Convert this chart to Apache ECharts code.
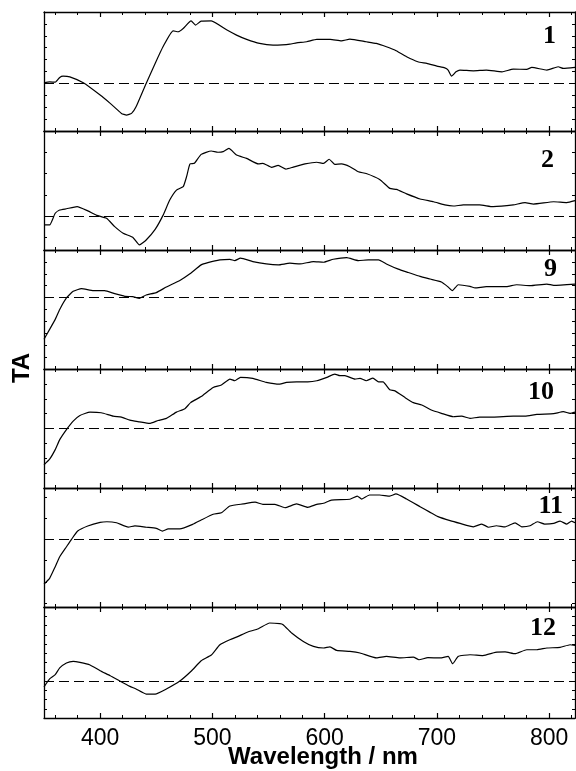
<!DOCTYPE html>
<html><head><meta charset="utf-8">
<script src="https://cdn.jsdelivr.net/npm/echarts@6/dist/echarts.min.js"></script>
<style>html,body{margin:0;padding:0;background:#fff}#c{width:576px;height:771px}</style>
</head><body><div id="c"></div>
<script>
// ---- data (wavelength in nm, TA in arbitrary tick units) ----
const panelLabels = ['1', '2', '9', '10', '11', '12'];
const xTickLabels = [400, 500, 600, 700, 800];

const wl1 = [350,355,360,364,367,373,385,400,409,419,423.5,428,432,441,449,456,465,469.5,474,481,485,490,499,513,521.5,530.5,542,554,562,569,575,584,593,605,615,622.5,637,646,655,662.5,673,683,691,700,707,710,713,717,720.5,732.5,744,758,768,780,784.5,798,808,812.6,823];
const ta1 = [0.05,0.13,0.1,0.5,0.61,0.55,0.05,-0.98,-1.68,-2.52,-2.66,-2.52,-1.97,0,1.68,3.08,4.42,4.34,4.62,5.26,4.9,5.24,5.26,4.48,4.06,3.7,3.36,3.22,3.24,3.3,3.41,3.5,3.7,3.7,3.58,3.72,3.5,3.36,3.08,2.8,2.24,1.82,1.68,1.45,1.31,1.12,0.61,0.97,1.12,1.06,1.12,0.97,1.2,1.18,1.34,1.12,1.4,1.26,1.34];

const wl2 = [350,355,360,364,370,379.5,389,397,405.7,413,420.5,429,435,441,449,456,462,468,474,477,480,484,490,499,505,509.6,514.7,521.5,530.5,541,545,552.7,558.6,565.5,572,582.5,593,599,604,609,615,622.5,630,637,649,658,664,673,685,697,707,714.6,723.5,738,750,768,778.5,786,804,815.7,823];
const ta2 = [-0.42,-0.42,0.13,0.28,0.34,0.44,0.24,0.03,-0.11,-0.5,-0.81,-1.0,-1.36,-1.13,-0.63,0.03,0.75,1.22,1.38,1.85,2.45,2.48,2.9,3.06,3.0,3.03,3.18,2.87,2.71,2.45,2.48,2.29,2.38,2.21,2.3,2.45,2.53,2.48,2.67,2.43,2.45,2.32,2.08,2.0,1.72,1.3,1.25,1.04,0.8,0.67,0.52,0.47,0.52,0.52,0.44,0.52,0.63,0.56,0.67,0.63,0.72];

const wl9 = [350,355,360,364,370,376,383.4,394,404,413,422,429,435,441,450,459,471,480,490,496,506.7,515.6,520,525,536,548,558.6,569,578,590,599,607.7,619.6,630,639,648,655,665.6,674.5,685,694,704,710,713.7,719,729.5,734,744,762,771,783,798,804,823];
const ta9 = [-3.5,-2.67,-1.83,-1.0,-0.03,0.53,0.75,0.58,0.58,0.33,0.11,0.08,-0.06,0.22,0.42,0.89,1.44,2.0,2.75,2.94,3.17,3.22,3.11,3.31,3.03,2.83,2.75,2.89,2.83,3.03,2.97,3.22,3.36,3.11,3.17,3.17,2.83,2.39,2.11,1.78,1.56,1.31,0.89,0.58,1.08,0.94,0.81,0.92,0.92,1.08,1.0,1.14,1.03,1.14];

const wl10 = [350,355,360,364,370,376,382,391,401,411.6,419,426.5,435,444,451.7,459,468,475.5,480.6,490,500.7,508,515.6,520,525,536,548,560,566,575,585,593,602,609,613.6,618,627,631.5,637,643,648,652,658,662.6,671.6,679,686.5,695,704,714.6,722,729.5,738,750,768,778.5,789,804,812.6,818.6,823];
const ta10 = [-2.44,-2.06,-1.42,-0.75,-0.07,0.5,0.88,1.1,1.06,0.83,0.77,0.56,0.45,0.34,0.54,0.68,1.1,1.33,1.74,2.15,2.76,2.92,3.32,3.21,3.44,3.37,3.1,2.98,3.1,3.14,3.14,3.21,3.44,3.66,3.55,3.55,3.32,3.37,3.21,3.39,3.14,3.14,2.6,2.53,2.08,1.74,1.58,1.24,1.02,0.79,0.83,0.68,0.77,0.77,0.83,0.83,0.95,1.0,1.13,1.02,1.1];

const wl11 = [350,355,360,364,370,374.5,380,389,400,406,414.6,425,431,441,450,455.6,460.6,471,483,490,500.7,508,515.6,527.5,538,545,555.7,564.6,575,585,593,599,606,622.5,629,633,640,649,658,663.5,673,685,694,701,711.7,720.6,732.5,740,746,753,760.7,769.6,775.6,783,789.5,796,804,809.7,815.7,820,823];
const ta11 = [-2.11,-1.84,-1.29,-0.82,-0.35,0,0.39,0.63,0.8,0.83,0.78,0.58,0.63,0.57,0.52,0.39,0.49,0.49,0.72,0.91,1.18,1.25,1.57,1.67,1.75,1.65,1.65,1.49,1.67,1.51,1.65,1.7,1.85,1.89,2.04,1.9,2.09,2.09,2.04,2.14,1.9,1.54,1.27,1.07,0.88,0.75,0.59,0.72,0.57,0.64,0.59,0.78,0.59,0.64,0.83,0.72,0.75,0.86,0.72,0.86,0.78];

const wl12 = [350,355,360,364,370,376,382,391,400,409,417.5,426.5,432,441,449,459,471,481.5,490,499,506.7,515.6,523,530.5,541,551,560,563,570.6,581,590,599,604.7,610.7,622.5,631.5,646.3,655,667,679,684,692,702.8,710,714,719,729.5,741,752,760.7,769.6,780,789,798,809.7,818.6,823];
const ta12 = [-0.65,0.22,0.68,1.41,1.95,2.12,2.01,1.73,1.11,0.57,0,-0.58,-0.86,-1.41,-1.41,-0.86,0,1.11,2.19,2.81,3.92,4.46,4.82,5.25,5.65,6.27,6.2,6.09,5.19,4.28,3.74,3.57,3.68,3.31,3.2,3.03,2.49,2.66,2.49,2.59,2.3,2.52,2.49,2.66,1.87,2.66,2.84,2.74,3.09,3.14,2.95,3.38,3.38,3.57,3.63,3.92,3.85];

const wlSets = [wl1, wl2, wl9, wl10, wl11, wl12];
const taSets = [ta1, ta2, ta9, ta10, ta11, ta12];

// ---- layout ----
const X_MIN = 350, X_MAX = 823;
const gridTops = [12, 131, 250, 369, 488, 607];
const gridHeights = [119, 119, 119, 119, 119, 111];
const yMins = [-4, -1.6, -6, -4, -3.19, -4];
const yMaxs = [6, 4, 4, 4, 2.42, 8];
const labelY = [36, 160, 269, 392, 506, 628];
const labelRight = [556, 554, 557, 554, 563, 556];

const xMinor = [];
for (let v = 360; v <= 820; v += 20) if (v % 100 !== 0) xMinor.push(v);

const FONT_SANS = '"Liberation Sans", Arial, sans-serif';
const axisColor = '#000';

const grids = [], xAxes = [], yAxes = [], series = [], graphics = [];
for (let i = 0; i < 6; i++) {
  grids.push({left: 44, right: 1, top: gridTops[i], height: gridHeights[i], containLabel: false});
  const yTicks = [];
  for (let v = Math.ceil(yMins[i]); v <= Math.floor(yMaxs[i]); v++) yTicks.push(v);
  const base = {gridIndex: i, type: 'value', min: X_MIN, max: X_MAX, splitLine: {show: false}};
  // bottom major
  xAxes.push(Object.assign({}, base, {
    position: 'bottom',
    axisLine: {show: true, onZero: false, lineStyle: {color: axisColor, width: 1.3}},
    axisTick: {show: true, inside: true, length: 5, customValues: xTickLabels, lineStyle: {color: axisColor, width: 1.2}},
    axisLabel: {show: i === 5, customValues: xTickLabels, color: '#000', fontSize: 23, fontFamily: FONT_SANS, margin: 9}
  }));
  // bottom minor
  xAxes.push(Object.assign({}, base, {
    position: 'bottom',
    axisLine: {show: false, onZero: false},
    axisTick: {show: true, inside: true, length: 3, customValues: xMinor, lineStyle: {color: axisColor, width: 1}},
    axisLabel: {show: false}
  }));
  // top major
  xAxes.push(Object.assign({}, base, {
    position: 'top',
    axisLine: {show: true, onZero: false, lineStyle: {color: axisColor, width: 1.3}},
    axisTick: {show: true, inside: true, length: 5, customValues: xTickLabels, lineStyle: {color: axisColor, width: 1.2}},
    axisLabel: {show: false}
  }));
  // top minor
  xAxes.push(Object.assign({}, base, {
    position: 'top',
    axisLine: {show: false, onZero: false},
    axisTick: {show: true, inside: true, length: 3, customValues: xMinor, lineStyle: {color: axisColor, width: 1}},
    axisLabel: {show: false}
  }));
  const ybase = {gridIndex: i, type: 'value', min: yMins[i], max: yMaxs[i], splitLine: {show: false},
    axisLine: {show: true, onZero: false, lineStyle: {color: axisColor, width: 1.3}},
    axisTick: {show: true, inside: true, length: 3, customValues: yTicks, lineStyle: {color: axisColor, width: 1}},
    axisLabel: {show: false}};
  yAxes.push(Object.assign({}, ybase, {position: 'left'}));
  yAxes.push(Object.assign({}, ybase, {position: 'right'}));

  series.push({
    type: 'line', xAxisIndex: 4 * i, yAxisIndex: 2 * i,
    data: wlSets[i].map((w, k) => [w, taSets[i][k]]),
    showSymbol: false, symbol: 'none', smooth: 0.15, silent: true,
    lineStyle: {color: '#000', width: 1.2},
    markLine: {silent: true, symbol: 'none', label: {show: false},
      lineStyle: {color: '#000', width: 1.2, type: [10, 5]},
      data: [{yAxis: 0}]}
  });

  graphics.push({type: 'text', x: labelRight[i], y: labelY[i],
    style: {text: panelLabels[i], font: 'bold 26px "Liberation Serif", "Times New Roman", serif',
      fill: '#000', textAlign: 'right', textVerticalAlign: 'middle'}});
}

graphics.push({type: 'text', x: 22, y: 368, rotation: Math.PI / 2,
  style: {text: 'TA', font: 'bold 24px ' + FONT_SANS, fill: '#000', textAlign: 'center', textVerticalAlign: 'middle'}});
graphics.push({type: 'text', x: 323, y: 757,
  style: {text: 'Wavelength / nm', font: 'bold 24px ' + FONT_SANS, fill: '#000', textAlign: 'center', textVerticalAlign: 'middle'}});

const chart = echarts.init(document.getElementById('c'), null, {renderer: 'canvas'});
chart.setOption({
  animation: false,
  backgroundColor: '#fff',
  grid: grids,
  xAxis: xAxes,
  yAxis: yAxes,
  series: series,
  graphic: graphics
});
</script>
</body></html>
